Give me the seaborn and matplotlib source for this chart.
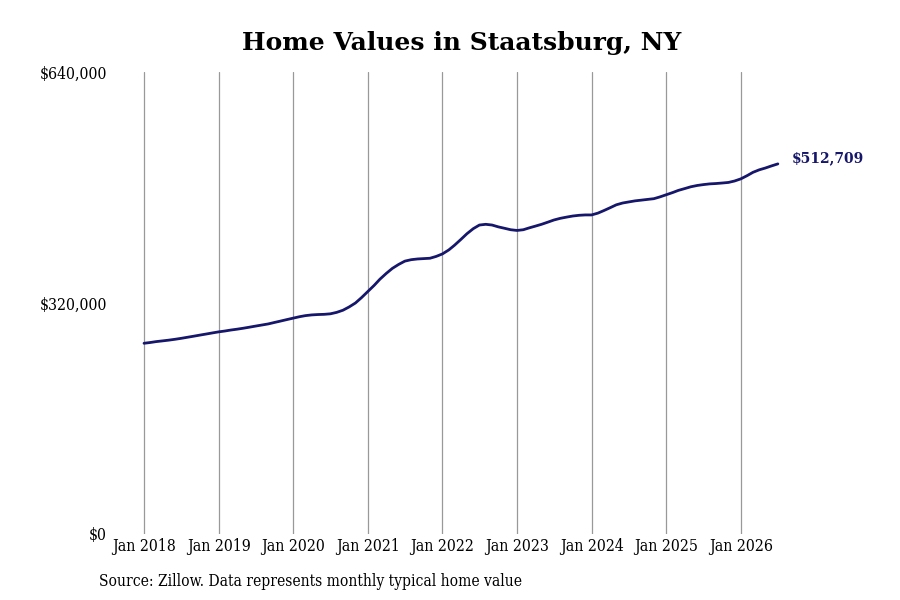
import numpy as np
import pandas as pd
import matplotlib
matplotlib.use("Agg")
import matplotlib.pyplot as plt
import matplotlib.dates as mdates
import seaborn as sns

# monthly typical home value, Jan 2018 .. Jul 2026
dates = pd.date_range("2018-01-01", "2026-07-01", freq="MS")
values = [
    264200, 265300, 266500, 267500, 268500, 269700, 271000, 272500, 274000, 275500, 277000, 278500,
    280000, 281200, 282500, 283700, 285000, 286500, 288000, 289500, 291000, 293000, 295000, 297000,
    299000, 301000, 302500, 303500, 304000, 304300, 305000, 307000, 310000, 314500, 320000, 327500,
    336000, 344500, 353000, 361000, 368000, 373500, 378000, 380000, 381000, 381500, 382000, 384500,
    388000, 393500, 400000, 408000, 416000, 423000, 428000, 429000, 428000, 425500, 423500, 421500,
    420500, 421500, 424000, 426500, 429000, 432000, 435000, 437300, 439000, 440500, 441500, 442000,
    442000, 444500, 448000, 452000, 456000, 458500, 460000, 461500, 462500, 463500, 464500, 467000,
    470000, 473000, 476000, 478500, 481000, 482800, 484000, 485000, 485500, 486200, 487000, 489000,
    492000, 496500, 501000, 504500, 507000, 510000, 512709,
]
ytick_vals = [0, 320000, 640000]
ytick_labels = ["$0", "$320,000", "$640,000"]
xtick_years = list(range(2018, 2027))

df = pd.DataFrame({"date": dates, "value": values})

sns.set_theme(style="white")
plt.rcParams["font.family"] = ["DejaVu Serif"]

navy = "#16166b"
fig = plt.figure(figsize=(9, 6), dpi=100)
ax = fig.add_axes([110 / 900, 1 - 534 / 600, 680 / 900, 462 / 600])

sns.lineplot(data=df, x="date", y="value", ax=ax, color=navy, linewidth=2.0)

start = mdates.date2num(pd.Timestamp("2018-01-01"))
per_month = 365.25 / 12
ax.set_xlim(start - 5.47 * per_month, start + 103.9 * per_month)
ax.set_ylim(0, 640000)

xt = [mdates.date2num(pd.Timestamp(f"{y}-01-01")) for y in xtick_years]
ax.set_xticks(xt)
ax.set_xticklabels([f"Jan {y}" for y in xtick_years], fontstretch="condensed")
ax.set_yticks(ytick_vals)
ax.set_yticklabels(ytick_labels, fontstretch="condensed")
ax.tick_params(axis="both", length=0, labelsize=11.3, colors="black")
ax.tick_params(axis="y", pad=2)
ax.tick_params(axis="x", pad=3)
ax.xaxis.grid(True, color="#999999", linewidth=0.9)
ax.yaxis.grid(False)
for s in ax.spines.values():
    s.set_visible(False)
ax.set_xlabel("")
ax.set_ylabel("")

last_date = mdates.date2num(df["date"].iloc[-1])
ax.annotate(f"${values[-1]:,}", xy=(last_date, values[-1]), xytext=(10, 4.3),
            textcoords="offset points", ha="left", va="center",
            fontsize=10, fontweight="bold", color=navy)

fig.text(462 / 900, 1 - 43 / 600, "Home Values in Staatsburg, NY",
         ha="center", va="center", fontsize=18, fontweight="bold", color="black")
fig.text(99 / 900, 1 - 582 / 600, "Source: Zillow. Data represents monthly typical home value",
         ha="left", va="center", fontsize=11.2, fontstretch="condensed", color="black")

fig.savefig("out.png", dpi=100, facecolor="white")
